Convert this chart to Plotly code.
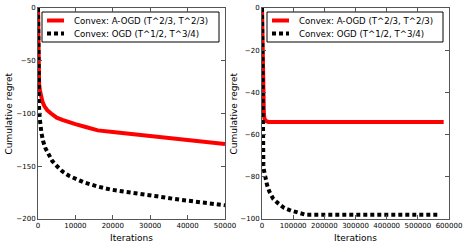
import plotly.graph_objects as go

# ---- data ----
left_red_x = [0, 50, 100, 200, 300, 500, 800, 1200, 1700, 2500, 3500, 5000, 6500, 8000,
              10000, 13000, 16000, 20000, 25000, 30000, 35000, 40000, 45000, 50000]
left_red_y = [0, -30, -50, -65, -72, -78, -84, -89, -93, -97, -100, -104, -106, -108,
              -110, -113, -116, -117.5, -119.5, -121.5, -123.5, -125.5, -127.5, -129]

left_blk_x = [0, 50, 100, 200, 300, 450, 630, 900, 1350, 2000, 2900, 3800, 5100, 6550,
              8260, 10100, 12100, 15700, 19300, 22900, 27400, 31900, 36400, 40800, 45300, 50000]
left_blk_y = [0, -40, -65, -84, -95, -104, -112, -118, -126, -133, -139, -145, -150, -155,
              -159, -162, -165, -169, -172, -174, -176, -178.5, -181, -183, -185, -187]

right_red_x = [0, 1000, 2000, 3000, 4500, 6000, 8000, 12000, 20000, 40000, 100000, 300000, 583000]
right_red_y = [0, -15, -28, -38, -46, -50, -52.5, -53.5, -54, -54, -54, -54, -54]

right_blk_x = [0, 500, 1000, 2100, 3200, 4300, 6400, 10700, 16000, 23500, 36300, 53000,
               71500, 92800, 116000, 141000, 200000, 400000, 568000]
right_blk_y = [0, -30, -50, -65.5, -70, -74, -77, -80.5, -83.7, -87, -90.5, -92.7,
               -94.8, -96, -97, -98, -98, -98, -98]

series_names = ["Convex: A-OGD (T^2/3, T^2/3)", "Convex: OGD (T^1/2, T^3/4)"]

W, H = 467, 246
FONT = "DejaVu Sans"
AXC = "#555555"
RED = "#ff0000"
DASH = "4px,3px"

fig = go.Figure()

fig.add_trace(go.Scatter(x=left_red_x, y=left_red_y, mode="lines", name=series_names[0],
                         line=dict(color=RED, width=4), xaxis="x", yaxis="y"))
fig.add_trace(go.Scatter(x=left_blk_x, y=left_blk_y, mode="lines", name=series_names[1],
                         line=dict(color="black", width=4, dash=DASH), xaxis="x", yaxis="y"))
fig.add_trace(go.Scatter(x=right_red_x, y=right_red_y, mode="lines", name=series_names[0],
                         line=dict(color=RED, width=4), xaxis="x2", yaxis="y2"))
fig.add_trace(go.Scatter(x=right_blk_x, y=right_blk_y, mode="lines", name=series_names[1],
                         line=dict(color="black", width=4, dash=DASH), xaxis="x2", yaxis="y2"))

ydom = [(H - 219) / H, (H - 8) / H]
axis_common = dict(showgrid=False, zeroline=False, showline=True, linecolor=AXC, linewidth=1,
                   mirror="ticks", ticks="inside", ticklen=4, tickcolor=AXC, tickwidth=1,
                   tickangle=0, automargin=False,
                   tickfont=dict(family=FONT, size=7, color="black"))

fig.update_layout(
    width=W, height=H,
    margin=dict(l=0, r=0, t=0, b=0, pad=0, autoexpand=False),
    paper_bgcolor="white", plot_bgcolor="white",
    font=dict(family=FONT, color="black"),
    showlegend=False,
    hovermode=False,
    xaxis=dict(domain=[38 / W, 225 / W], range=[0, 50000], dtick=10000, tickformat="d",
               anchor="y", **axis_common),
    yaxis=dict(domain=ydom, range=[-200, 0], dtick=50, anchor="x", **axis_common),
    xaxis2=dict(domain=[262 / W, 449 / W], range=[0, 600000], dtick=100000, tickformat="d",
                anchor="y2", **axis_common),
    yaxis2=dict(domain=ydom, range=[-100, 0], dtick=20, anchor="x2", **axis_common),
)

# axis titles
ymid = 1 - 113.5 / H
annots = [
    dict(text="Iterations", x=131.5 / W, y=1 - 238 / H),
    dict(text="Iterations", x=355.5 / W, y=1 - 238 / H),
    dict(text="Cumulative regret", x=8 / W, y=ymid, textangle=-90),
    dict(text="Cumulative regret", x=233 / W, y=ymid, textangle=-90),
]
for a in annots:
    fig.add_annotation(xref="paper", yref="paper", showarrow=False,
                       xanchor="center", yanchor="middle",
                       font=dict(family=FONT, size=9, color="black"), **a)

# legends (matplotlib-style compact boxes)
def px(x):
    return x / W

def py(y):
    return 1 - y / H

for (bx0, bx1) in [(42, 219), (267, 443)]:
    fig.add_shape(type="rect", xref="paper", yref="paper",
                  x0=px(bx0), x1=px(bx1), y0=py(42), y1=py(12),
                  line=dict(color="black", width=1), fillcolor="white", layer="below")
    for i, (col, dash) in enumerate([(RED, "solid"), ("black", DASH)]):
        yy = 20.5 + 13 * i
        fig.add_shape(type="line", xref="paper", yref="paper",
                      x0=px(bx0 + 5), x1=px(bx0 + 22), y0=py(yy), y1=py(yy),
                      line=dict(color=col, width=4, dash=dash), layer="above")
        fig.add_annotation(xref="paper", yref="paper", showarrow=False,
                           x=px(bx0 + 30), y=py(yy), xanchor="left", yanchor="middle",
                           text=series_names[i],
                           font=dict(family=FONT, size=8.6, color="black"))

fig.write_html("out.html",
               config={"displayModeBar": False, "staticPlot": True},
               post_script="document.body.style.margin='0px';"
                           "document.body.style.overflow='hidden';")
